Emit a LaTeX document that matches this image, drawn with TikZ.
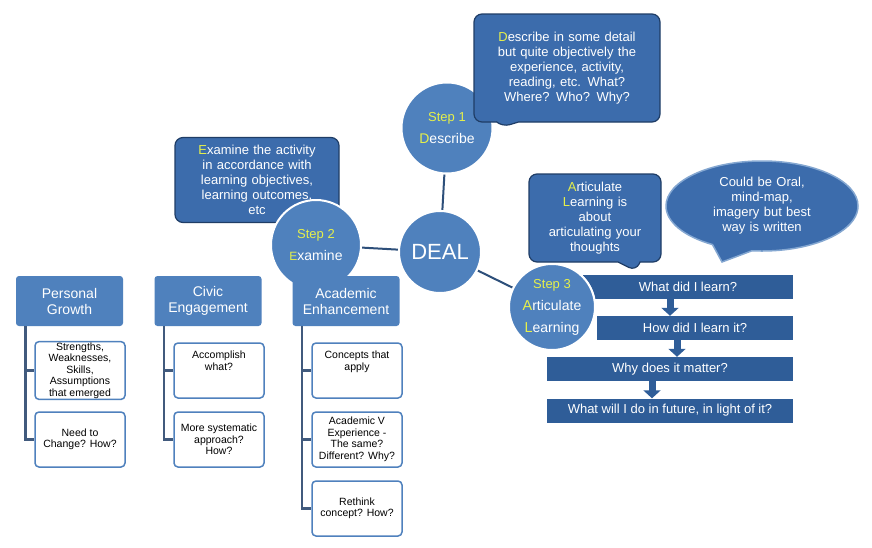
\documentclass[tikz,border=0pt]{standalone}
\usepackage{fontspec}
\setmainfont{Liberation Sans}
\usetikzlibrary{shapes.callouts,shapes.geometric,arrows.meta}
\definecolor{mid}{HTML}{4F81BD}
\definecolor{bar}{HTML}{2F5D98}
\definecolor{call}{HTML}{3C6CAC}
\definecolor{edge}{HTML}{1F3D66}
\definecolor{yel}{HTML}{E6F04A}
\definecolor{lin}{HTML}{2D4F7A}
\begin{document}
\begin{tikzpicture}[x=1pt,y=-1pt,
  circ/.style={circle,fill=mid,draw=white,line width=2pt,text=white,align=center,inner sep=0pt},
  callbox/.style={rectangle callout,rounded corners=8pt,fill=call,draw=edge,line width=1.2pt,text=white,align=center,font=\fontsize{13}{15}\selectfont,inner sep=3pt,callout pointer width=22pt},
  hdr/.style={rectangle,rounded corners=3pt,fill=mid,text=white,align=center,font=\fontsize{14}{16}\selectfont,minimum width=107pt,minimum height=50pt},
  sub/.style={rectangle,rounded corners=4pt,fill=white,draw=mid,line width=1.5pt,align=center,font=\fontsize{10.5}{11.5}\selectfont,minimum width=90pt,minimum height=55pt,inner sep=1pt},
  barbox/.style={rectangle,fill=bar,text=white,font=\fontsize{13}{15}\selectfont,minimum height=24pt,inner sep=0pt},
  conn/.style={draw=lin,line width=2pt},
  tree/.style={draw=edge!85,line width=2.5pt}]
\useasboundingbox[fill=white] (0,0) rectangle (872,547);
% bars
\node[barbox,minimum width=210pt] (b1) at (688,287) {What did I learn?};
\node[barbox,minimum width=196pt] (b2) at (695,328) {How did I learn it?};
\node[barbox,minimum width=246pt] (b3) at (670,369) {Why does it matter?};
\node[barbox,minimum width=246pt] (b4) at (670,410.5) {What will I do in future, in light of it?};
\foreach \a/\b in {b1/b2,b2/b3,b3/b4}
  \draw[draw=bar,line width=7pt,-{Triangle[width=17pt,length=8pt]}] ([xshift=-18pt]\a.south) -- ([xshift=-18pt]\a.south |- \b.north);
% connectors
\node[circ,minimum size=82pt,font=\fontsize{22}{24}\selectfont] (deal) at (440,252) {DEAL};
\node[circ,minimum size=91pt] (s1) at (447,128) {};
\node[circ,minimum size=90pt] (s2) at (316,245) {};
\node[circ,minimum size=86pt] (s3) at (552,307) {};
\path[conn] (deal) -- (s1);
\path[conn] (deal) -- (s2);
\path[conn] (deal) -- (s3);
\node[circ,minimum size=82pt,font=\fontsize{22}{24}\selectfont] at (440,252) {DEAL};
\node[circ,minimum size=91pt,font=\fontsize{13}{22}\selectfont] at (447,128) {\textcolor{yel}{Step 1}\\\fontsize{14}{22}\selectfont\textcolor{yel}{D}escribe};
% callouts
\coordinate (p1) at (502,127);
\node[callbox,text width=180pt,minimum height=108pt,callout absolute pointer={(p1)}] (c1) at (567,68) {\textcolor{yel}{D}escribe in some detail\\but quite objectively the\\experience, activity,\\reading, etc. What?\\Where? Who? Why?};
\coordinate (p2) at (320,233);
\node[callbox,text width=158pt,minimum height=85pt,callout absolute pointer={(p2)}] (c2) at (257,180) {\textcolor{yel}{E}xamine the activity\\in accordance with\\learning objectives,\\learning outcomes,\\etc};
\node[circ,minimum size=90pt,font=\fontsize{13}{22}\selectfont] at (316,245) {\textcolor{yel}{Step 2}\\\fontsize{14}{22}\selectfont\textcolor{yel}{\large E}xamine};
\coordinate (p3) at (636,271);
\node[callbox,text width=126pt,minimum height=88pt,callout absolute pointer={(p3)}] (c3) at (595,218) {\textcolor{yel}{A}rticulate\\\textcolor{yel}{L}earning is\\about\\articulating your\\thoughts};
\coordinate (p4) at (722,262);
\node[ellipse callout,fill=call,draw=mid!70,line width=1.5pt,text=white,align=center,font=\fontsize{13}{15}\selectfont,text width=120pt,minimum width=192pt,minimum height=90pt,inner sep=0pt,callout pointer arc=25,callout absolute pointer={(p4)}] (e1) at (762,206) {Could be Oral,\\mind-map,\\imagery but best\\way is written};
\node[circ,minimum size=86pt,font=\fontsize{13}{22}\selectfont] at (552,307) {\textcolor{yel}{Step 3}\\{\fontsize{14}{22}\selectfont\textcolor{yel}{\Large A}rticulate}\\{\fontsize{14}{22}\selectfont\textcolor{yel}{\Large L}earning}};
% left tree
\node[hdr] (h1) at (69.5,301) {Personal\\Growth};
\node[hdr] (h2) at (208,301) {Civic\\Engagement};
\node[hdr] (h3) at (346,301) {Academic\\Enhancement};
\node[sub] (a1) at (80,370.5) {Strengths,\\Weaknesses,\\Skills,\\Assumptions\\that emerged};
\node[sub] (a2) at (80,439.5) {Need to\\Change? How?};
\node[sub] (b1s) at (219,370.5) {Accomplish\\what?\\[8pt]};
\node[sub] (b2s) at (219,439.5) {More systematic\\approach?\\How?};
\node[sub] (d1) at (357,370.5) {Concepts that\\apply\\[8pt]};
\node[sub] (d2) at (357,439.5) {Academic V\\Experience -\\The same?\\Different? Why?};
\node[sub] (d3) at (357,508.5) {Rethink\\concept? How?};
\draw[tree] ([xshift=-44pt]h1.south) |- (a2.west);
\draw[tree] ([xshift=-44pt]h1.south |- a1.west) -- (a1.west);
\draw[tree] ([xshift=-44pt]h2.south) |- (b2s.west);
\draw[tree] ([xshift=-44pt]h2.south |- b1s.west) -- (b1s.west);
\draw[tree] ([xshift=-44pt]h3.south) |- (d3.west);
\draw[tree] ([xshift=-44pt]h3.south |- d1.west) -- (d1.west);
\draw[tree] ([xshift=-44pt]h3.south |- d2.west) -- (d2.west);
\end{tikzpicture}
\end{document}
